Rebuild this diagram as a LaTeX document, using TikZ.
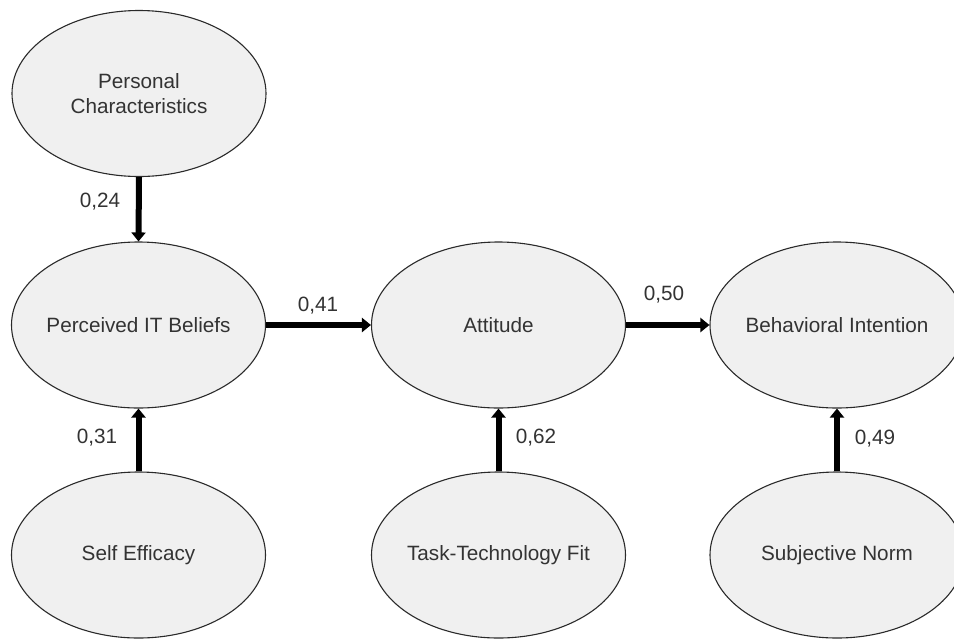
\documentclass[tikz,border=0pt]{standalone}
\usepackage{fontspec}
\setmainfont{Liberation Sans}
\usetikzlibrary{shapes.geometric,arrows.meta}
\definecolor{ellfill}{HTML}{F0F0F0}
\definecolor{ellline}{HTML}{2A2A2A}
\definecolor{txt}{HTML}{333333}
\tikzset{
  construct/.style={ellipse, draw=ellline, line width=0.55pt, fill=ellfill,
    minimum width=127pt, minimum height=83pt, inner sep=0pt, text=txt,
    align=center, font=\fontsize{10.35}{12.2}\selectfont},
  path/.style={line width=3pt, draw=black, -{Triangle[length=4.5pt,width=7pt]}},
  coef/.style={text=txt, font=\fontsize{10.35}{12.2}\selectfont, inner sep=0pt}
}
\begin{document}
\begin{tikzpicture}[x=0.5pt,y=-0.5pt]
\useasboundingbox (0,0) rectangle (954,639);
\node[construct] (pc)  at (139,93.5) {\makebox[0pt]{Personal}\\\makebox[0pt]{Characteristics}};
\node[construct] (pit) at (138.5,325) {\makebox[0pt]{Perceived IT Beliefs}};
\node[construct] (att) at (498.5,325) {\makebox[0pt]{Attitude}};
\node[construct] (bi)  at (837,325) {\makebox[0pt]{Behavioral Intention}};
\node[construct] (se)  at (138.5,555) {\makebox[0pt]{Self Efficacy}};
\node[construct] (ttf) at (498.5,555) {\makebox[0pt]{Task-Technology Fit}};
\node[construct] (sn)  at (837,555) {\makebox[0pt]{Subjective Norm}};

\draw[path] (pc.south) -- (pit.north);
\draw[path] (se.north) -- (pit.south);
\draw[path] (pit.east) -- (att.west);
\draw[path] (ttf.north) -- (att.south);
\draw[path] (att.east) -- (bi.west);
\draw[path] (sn.north) -- (bi.south);

\node[coef] (l1) at (100,202) {0,24};
\node[coef] (l2) at (318,306) {0,41};
\node[coef] (l3) at (664,295) {0,50};
\node[coef] (l4) at (97,438) {0,31};
\node[coef] (l5) at (536,438) {0,62};
\node[coef] (l6) at (875,439) {0,49};
\end{tikzpicture}
\end{document}
